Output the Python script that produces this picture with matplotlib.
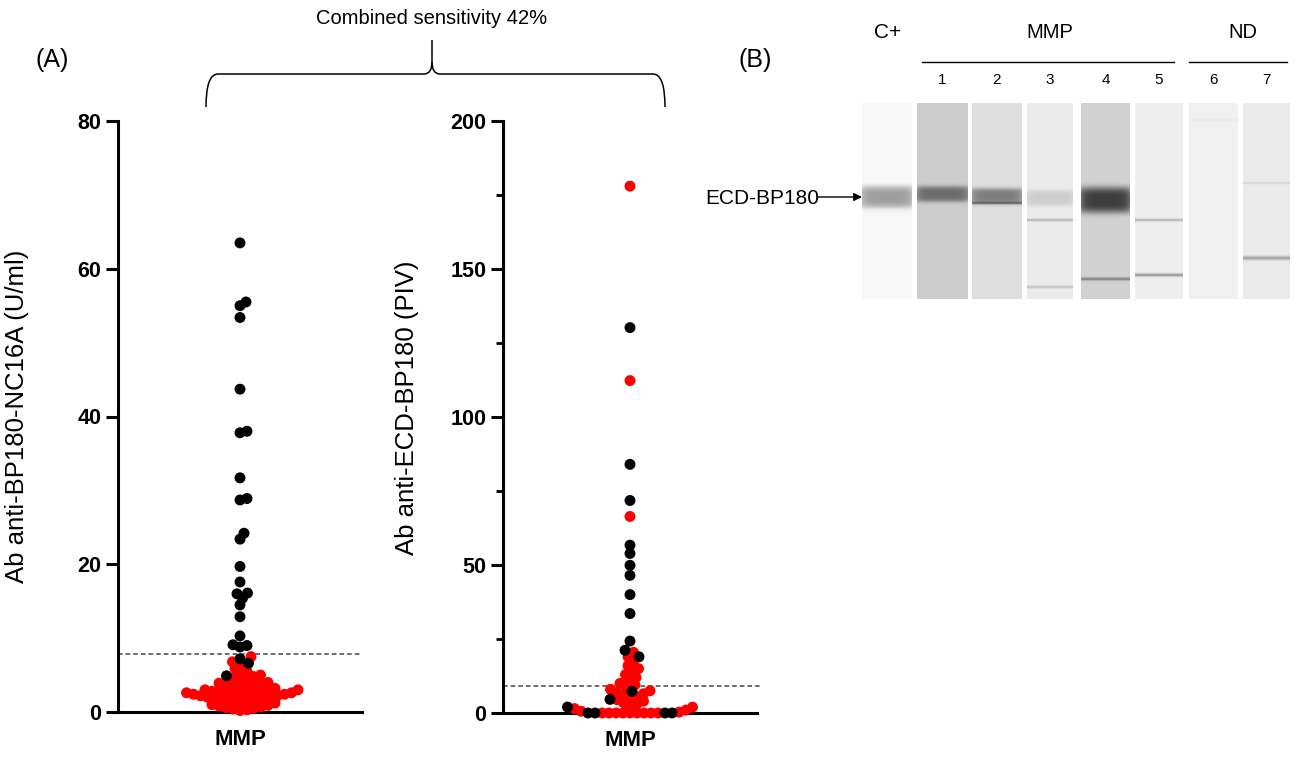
import numpy as np
import matplotlib.pyplot as plt
from matplotlib.path import Path
from matplotlib.patches import PathPatch

W, H = 1299, 757
plt.rcParams['font.family'] = ['Liberation Sans', 'DejaVu Sans']

# ---- panel A: anti-BP180-NC16A (U/ml)
nc16a_pos = [63.5, 55.5, 55.0, 53.4, 43.7, 38.0, 37.8, 31.7, 28.9, 28.7,
             24.2, 23.4, 19.7, 17.6, 16.1, 16.0, 15.4, 14.5, 12.9, 10.3,
             9.1, 9.0, 8.8, 7.2, 6.6, 4.9]
nc16a_neg = [7.5, 6.8, 6.2, 5.9, 5.5, 5.2, 5.0, 4.8, 4.6, 4.4, 4.2, 4.0, 3.9,
             3.8, 3.6, 3.5, 3.4, 3.3, 3.2, 3.1, 3.0, 3.0, 2.9, 2.8, 2.8, 2.7,
             2.6, 2.6, 2.5, 2.5, 2.4, 2.4, 2.3, 2.3, 2.2, 2.2, 2.1, 2.0, 2.0,
             1.9, 1.8, 1.7, 1.6, 1.5, 1.4, 1.3, 1.2, 1.1, 1.0, 0.9, 0.8, 0.7,
             0.6, 0.5, 0.4, 0.3, 0.2]
nc16a_cutoff = 7.9

# ---- panel A: anti-ECD-BP180 (PIV)
ecd_pos = [130.2, 84.0, 71.8, 56.7, 53.9, 49.9, 46.5, 40.0, 33.6, 24.3,
           21.2, 19.0, 7.3, 4.6, 2.0, 0.0, 0.0, 0.0, 0.0]
ecd_neg = [178.0, 112.3, 66.4, 20.5, 19.0, 17.5, 16.0, 15.0, 14.0, 13.0,
           12.0, 11.0, 10.0, 9.5, 8.8, 8.0, 7.5, 7.0, 6.5, 6.0, 5.5, 5.0,
           4.5, 4.0, 3.5, 3.0, 2.5, 2.0, 1.5, 1.0, 0.6, 0.3] + [0.0] * 9
ecd_cutoff = 9.2

# ---- panel B: immunoblot lanes
lane_labels = ['C+', '1', '2', '3', '4', '5', '6', '7']
lane_shade = [0.97, 0.80, 0.87, 0.92, 0.82, 0.93, 0.94, 0.92]
band_lane = [0, 1, 2, 3, 4, 2, 3, 3, 4, 5, 5, 6, 7, 7]
band_y = [197, 194, 196, 198, 200, 203, 220, 287, 279, 220, 275, 120, 183, 258]
band_sigma = [11, 8, 8, 8, 13, 1.3, 1.3, 1.5, 1.6, 1.3, 1.6, 1.5, 1.2, 2.0]
band_depth = [0.35, 0.38, 0.38, 0.12, 0.58, 0.28, 0.2, 0.15, 0.3, 0.22,
              0.32, 0.025, 0.08, 0.28]

LANE_X0 = [862, 917, 972, 1027, 1081, 1135, 1189, 1243]
LANE_X1 = [912, 968, 1022, 1073, 1130, 1183, 1238, 1290]


def swarm(values, px_per_unit, mind=7.0):
    v = np.asarray(values, float)
    ypx = v * px_per_unit
    xs = np.zeros(len(v))
    offsets = [0.0]
    for k in range(1, 300):
        offsets += [k * 0.5, -k * 0.5]
    done = []
    for i in np.argsort(v, kind='stable'):
        for off in offsets:
            if all((off - xs[j]) ** 2 + (ypx[i] - ypx[j]) ** 2 >= mind ** 2
                   for j in done):
                xs[i] = off
                break
        done.append(i)
    return xs


def panel(rect_px, pos, neg, ymax, step, cutoff, ylabel, label_px,
          dash_extra=0, minor=False):
    x0, x1, ytop, ybot = rect_px
    ax = fig.add_axes([x0 / W, 1 - ybot / H, (x1 - x0) / W, (ybot - ytop) / H])
    vals = list(neg) + list(pos)
    cols = ['#ff0000'] * len(neg) + ['black'] * len(pos)
    xs = swarm(vals, (ybot - ytop) / ymax)
    xs = xs / ((x1 - x0) / 2)
    ax.scatter(xs, vals, c=cols, s=62, edgecolors='none', clip_on=False,
               zorder=3)
    ax.set_xlim(-1, 1)
    ax.set_ylim(0, ymax)
    ax.plot([-1, 1 + dash_extra], [cutoff, cutoff], color='#444444', lw=1.1,
            ls=(0, (3, 2)), clip_on=False, zorder=2)
    ax.spines[['top', 'right']].set_visible(False)
    for s in ['left', 'bottom']:
        ax.spines[s].set_linewidth(2.2)
    ax.set_yticks(np.arange(0, ymax + 1, step))
    if minor:
        ax.set_yticks(np.arange(step / 2, ymax, step), minor=True)
        ax.tick_params(axis='y', which='minor', length=5, width=2)
    ax.tick_params(axis='y', length=9, width=2.2, labelsize=15.5, pad=3)
    for lab in ax.get_yticklabels():
        lab.set_fontweight('bold')
    ax.set_xticks([0])
    ax.set_xticklabels(['MMP'], fontweight='bold', fontsize=16)
    ax.tick_params(axis='x', length=0, pad=12)
    ax.set_ylabel(ylabel, fontsize=18.5)
    ax.yaxis.set_label_coords((label_px[0] - x0) / (x1 - x0),
                              (ybot - label_px[1]) / (ybot - ytop))
    return ax


fig = plt.figure(figsize=(W / 100, H / 100), dpi=100)

panel((118, 362, 121, 712), nc16a_pos, nc16a_neg, 80, 20, nc16a_cutoff,
      'Ab anti-BP180-NC16A (U/ml)', (29, 416))
panel((503, 757, 121, 713), ecd_pos, ecd_neg, 200, 50, ecd_cutoff,
      'Ab anti-ECD-BP180 (PIV)', (419, 408), dash_extra=0.03, minor=True)

# overlay in pixel coordinates for labels, bracket and blot
ov = fig.add_axes([0, 0, 1, 1])
ov.patch.set_visible(False)

bx = np.arange(860, 1292) + 0.5
by = np.arange(100, 302) + 0.5
img = np.ones((len(by), len(bx)))
for k in range(len(lane_labels)):
    inx = (bx >= LANE_X0[k]) & (bx <= LANE_X1[k])
    iny = (by >= 103) & (by <= 299)
    img[np.ix_(iny, inx)] = lane_shade[k]
for ln, yc, sg, dp in zip(band_lane, band_y, band_sigma, band_depth):
    p = 4 if sg > 4 else 2
    prof = dp * np.exp(-np.abs((by - yc) / sg) ** p)
    inx = (bx >= LANE_X0[ln]) & (bx <= LANE_X1[ln])
    half = (LANE_X1[ln] - LANE_X0[ln]) / 2
    t = (bx[inx] - (LANE_X0[ln] + half)) / half
    env = 1 - 0.35 * np.abs(t) ** 6 if sg > 4 else np.ones_like(t)
    img[:, inx] -= prof[:, None] * env[None, :]
ov.imshow(np.clip(img, 0, 1), cmap='gray', vmin=0, vmax=1,
          extent=(860, 1292, 302, 100), interpolation='bilinear', aspect='auto')

ov.set_xlim(0, W)
ov.set_ylim(H, 0)
ov.axis('off')

ov.text(52, 60, '(A)', fontsize=18, ha='center', va='center')
ov.text(755, 60, '(B)', fontsize=18, ha='center', va='center')
ov.text(432, 18, 'Combined sensitivity 42%', fontsize=14.5, ha='center',
        va='center')

# curly bracket
left = Path([(206, 107), (206, 74), (218, 74), (424, 74), (432, 74), (432, 62),
             (432, 40)],
            [Path.MOVETO, Path.CURVE3, Path.CURVE3, Path.LINETO, Path.CURVE3,
             Path.CURVE3, Path.LINETO])
right = Path([(665, 107), (665, 74), (653, 74), (440, 74), (432, 74), (432, 62)],
             [Path.MOVETO, Path.CURVE3, Path.CURVE3, Path.LINETO, Path.CURVE3,
              Path.CURVE3])
for pth in (left, right):
    ov.add_patch(PathPatch(pth, fc='none', ec='black', lw=1.1))

# blot labels
ov.text(888, 33, 'C+', fontsize=15, ha='center', va='center')
ov.text(1050, 33, 'MMP', fontsize=14.5, ha='center', va='center')
ov.text(1243, 33, 'ND', fontsize=14.5, ha='center', va='center')
ov.plot([922, 1174], [62, 62], color='black', lw=1)
ov.plot([1189, 1287], [62, 62], color='black', lw=1)
for k in range(1, len(lane_labels)):
    ov.text((LANE_X0[k] + LANE_X1[k]) / 2, 80, lane_labels[k], fontsize=11,
            ha='center', va='center')
ov.text(819, 198, 'ECD-BP180', fontsize=15, ha='right', va='center')
ov.annotate('', xy=(862, 197), xytext=(818, 197),
            arrowprops=dict(arrowstyle='-|>', color='black', lw=1,
                            mutation_scale=12, shrinkA=0, shrinkB=0))

fig.savefig('out.png', dpi=100)
